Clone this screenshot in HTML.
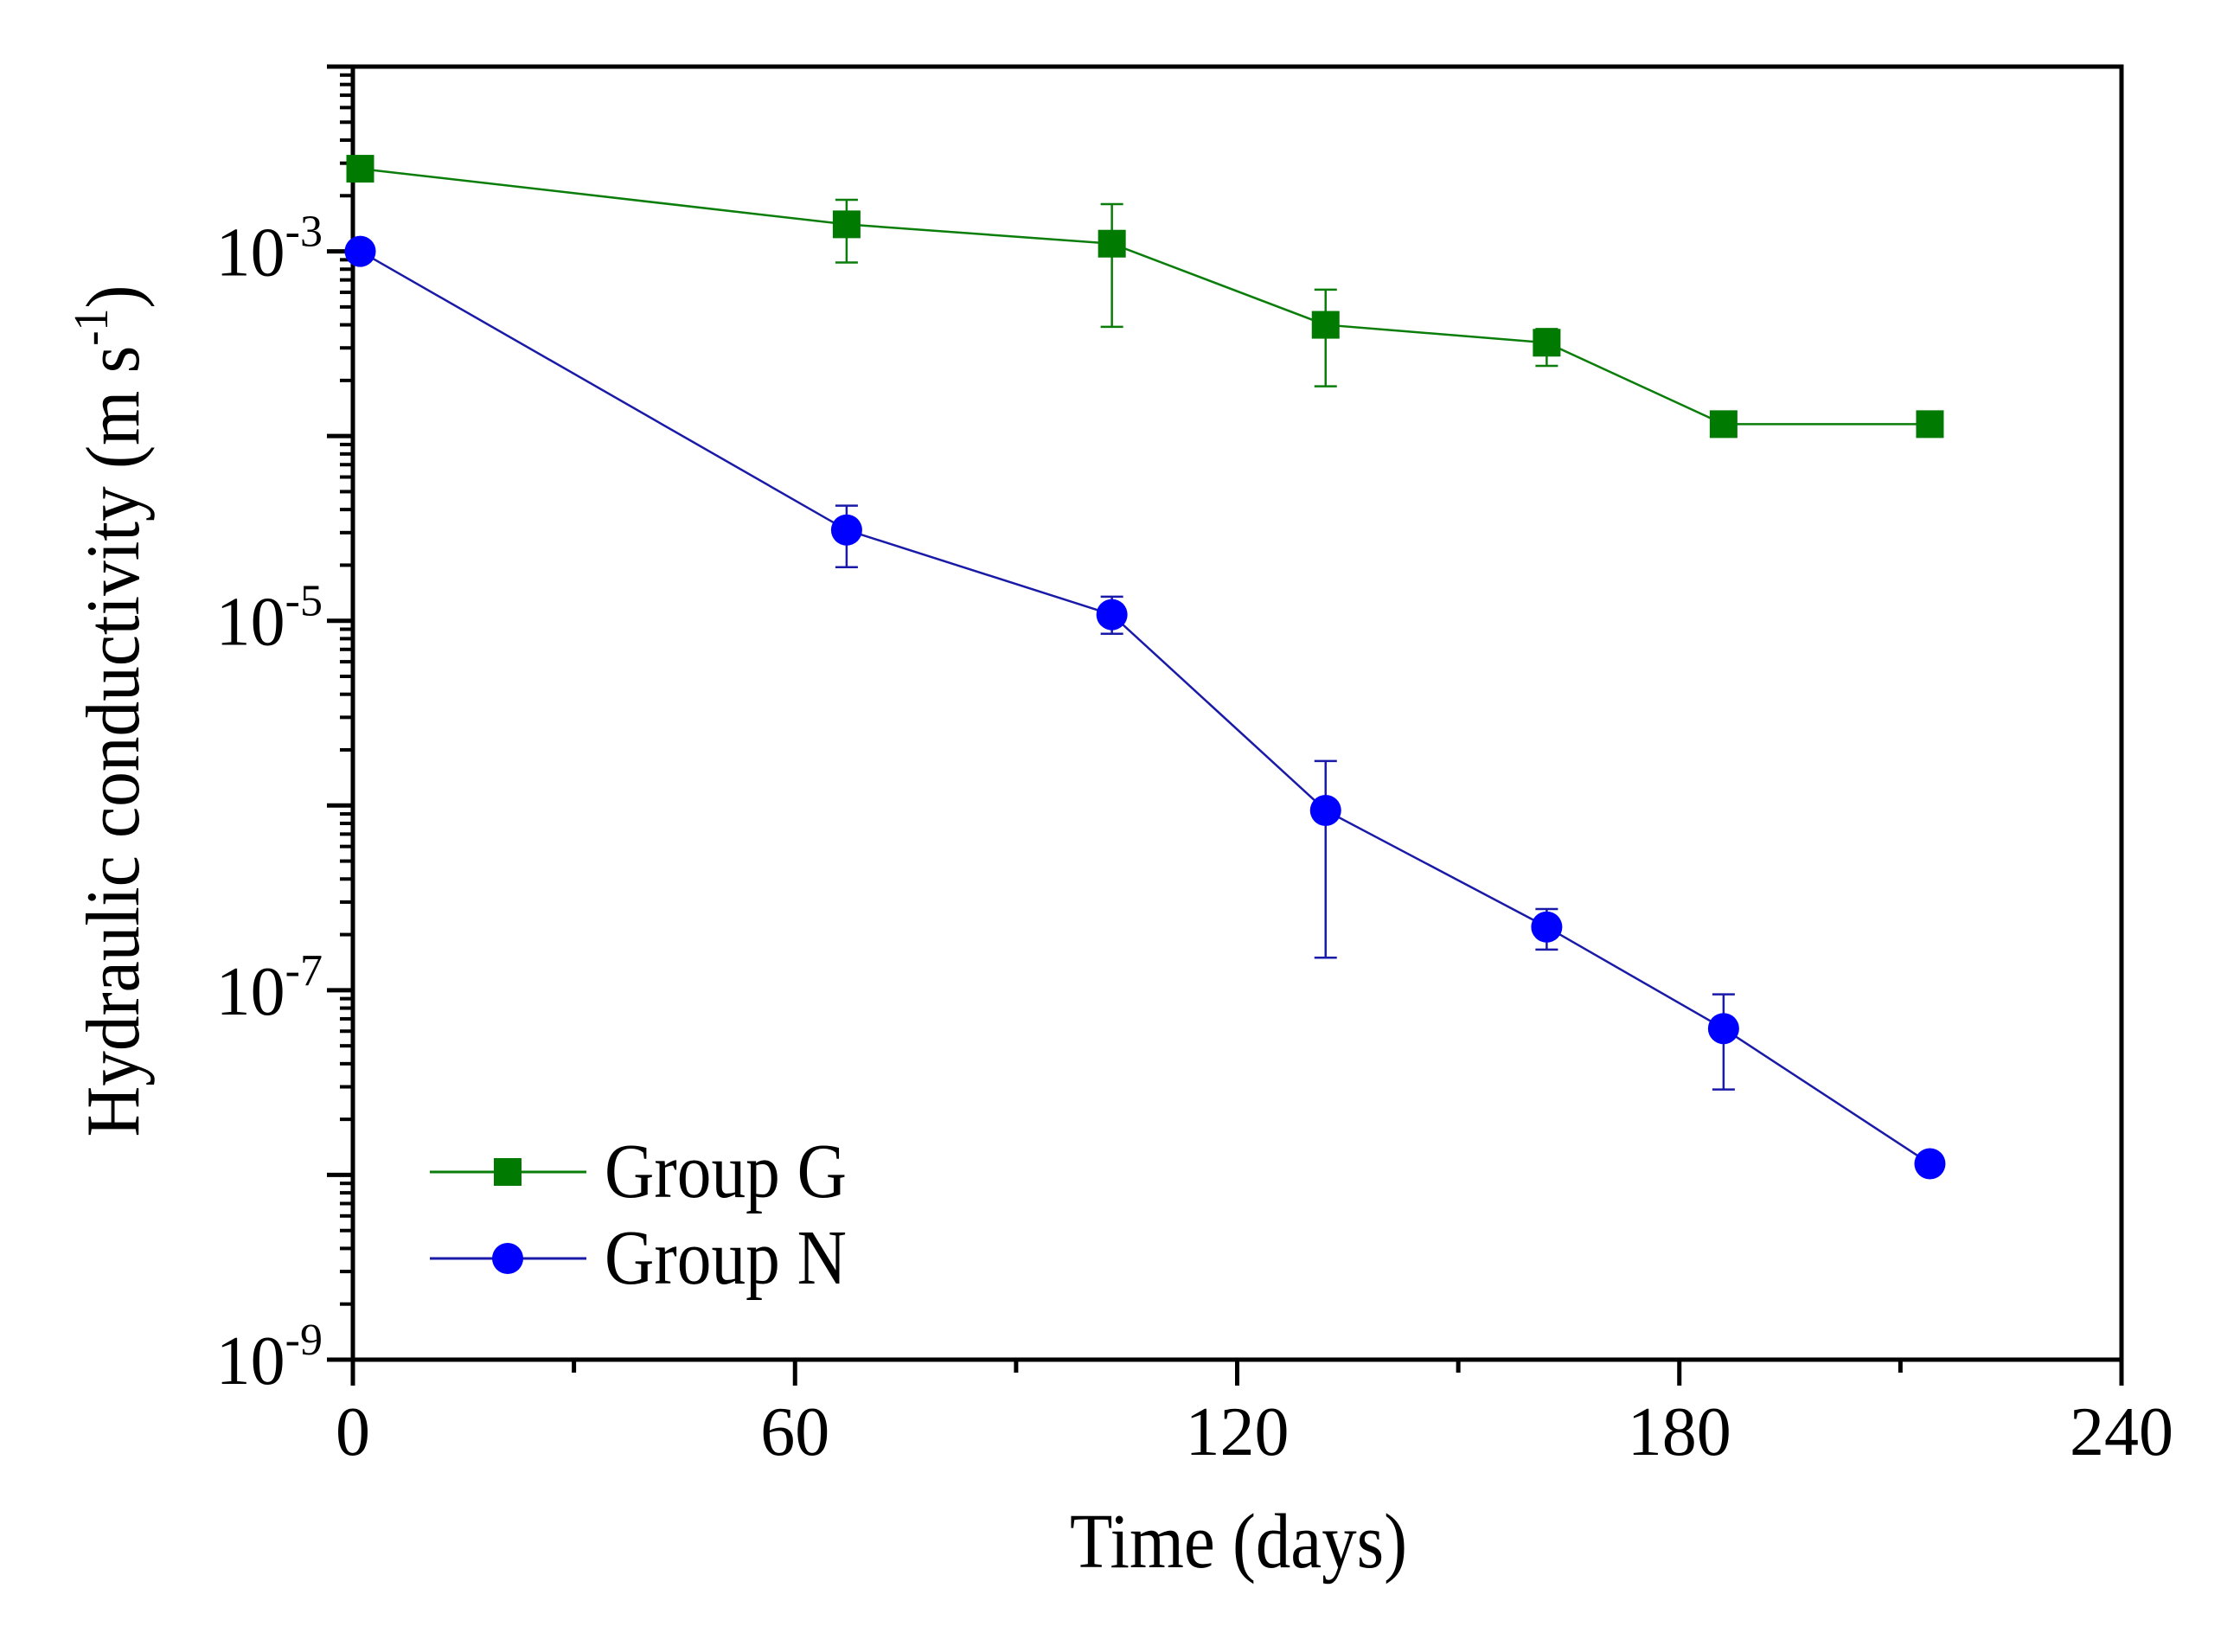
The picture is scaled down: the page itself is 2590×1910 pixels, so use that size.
<!DOCTYPE html>
<html><head><meta charset="utf-8"><style>
html,body{margin:0;padding:0;background:#fff;}
svg{display:block;font-family:"Liberation Serif","Times New Roman",serif;}
</style></head><body>
<svg id="chart" width="2590" height="1910" viewBox="0 0 2590 1910" xmlns="http://www.w3.org/2000/svg">
<rect width="2590" height="1910" fill="#fff"/>
<g id="plot"></g>
<text x="1432" y="1812" font-size="90" text-anchor="middle" textLength="390" lengthAdjust="spacingAndGlyphs">Time (days)</text>
<text transform="translate(160,822) rotate(-90)" font-size="88" text-anchor="middle" textLength="985" lengthAdjust="spacingAndGlyphs">Hydraulic conductivity (m s<tspan font-size="56" dy="-36">-1</tspan><tspan dy="36">)</tspan></text>
<g>
<line x1="497" y1="1355" x2="678" y2="1355" stroke="#0a7d0a" stroke-width="3"/>
<rect x="571" y="1339" width="32" height="32" fill="#007a00"/>
<text x="699" y="1384" font-size="90" textLength="280" lengthAdjust="spacingAndGlyphs">Group G</text>
<line x1="497" y1="1455" x2="678" y2="1455" stroke="#1a1aa8" stroke-width="3"/>
<circle cx="587" cy="1455" r="18" fill="#0000ff"/>
<text x="699" y="1484" font-size="90" textLength="280" lengthAdjust="spacingAndGlyphs">Group N</text>
</g>
</svg>
<script>
const days = [1, 67, 103, 132, 162, 186, 214];
const groupG = [2.8e-3, 1.4e-3, 1.1e-3, 4.0e-4, 3.2e-4, 1.16e-4, 1.16e-4];
const groupGLow = [null, 8.7e-4, 3.9e-4, 1.86e-4, 2.4e-4, null, null];
const groupGHigh = [null, 1.9e-3, 1.8e-3, 6.2e-4, 3.8e-4, null, null];
const groupN = [1.0e-3, 3.1e-5, 1.08e-5, 9.4e-7, 2.2e-7, 6.2e-8, 1.15e-8];
const groupNLow = [null, 1.95e-5, 8.5e-6, 1.5e-7, 1.66e-7, 2.9e-8, null];
const groupNHigh = [null, 4.2e-5, 1.35e-5, 1.74e-6, 2.75e-7, 9.5e-8, null];
const xTicks = [0, 60, 120, 180, 240];
const xMinorTicks = [30, 90, 150, 210];
const yLabelExps = [-3, -5, -7, -9];

const L = 408, R = 2453, T = 77, B = 1572;
const xMin = 0, xMax = 240, yMinExp = -9, yMaxExp = -2;
function sx(v){ return L + (v - xMin) / (xMax - xMin) * (R - L); }
function sy(v){ return B - (Math.log10(v) - yMinExp) / (yMaxExp - yMinExp) * (B - T); }

const NS = "http://www.w3.org/2000/svg";
const plot = document.getElementById('plot');
function mk(tag, attrs, parent){
  const e = document.createElementNS(NS, tag);
  for (const k in attrs) e.setAttribute(k, attrs[k]);
  (parent || plot).appendChild(e);
  return e;
}

const frame = mk('rect', {x:L, y:T, width:R-L, height:B-T, fill:'none', stroke:'#000', 'stroke-width':5});



xTicks.forEach(t => {
  const ln = mk('line', {x1:sx(t), y1:B, x2:sx(t), y2:B+30, stroke:'#000', 'stroke-width':5});
  
  
  const tx = mk('text', {x:sx(t), y:B+110, 'font-size':80, 'text-anchor':'middle'});
  tx.textContent = String(t);
  
  
});
xMinorTicks.forEach(t => {
  const ln = mk('line', {x1:sx(t), y1:B, x2:sx(t), y2:B+15, stroke:'#000', 'stroke-width':5});
  
  
});

for (let e = yMinExp; e <= yMaxExp; e++) {
  const y = sy(Math.pow(10, e));
  const ln = mk('line', {x1:L-30, y1:y, x2:L, y2:y, stroke:'#000', 'stroke-width':5});
  
  
  if (e < yMaxExp) {
    for (let m = 2; m <= 9; m++) {
      const ym = sy(m * Math.pow(10, e));
      const mn = mk('line', {x1:L-15, y1:ym, x2:L, y2:ym, stroke:'#000', 'stroke-width':4});
      
      
    }
  }
}
yLabelExps.forEach(e => {
  const y = sy(Math.pow(10, e));
  const tx = mk('text', {x:L-35, y:y+28, 'font-size':80, 'text-anchor':'end'});
  
  
  const base = document.createElementNS(NS, 'tspan');
  base.textContent = '10';
  tx.appendChild(base);
  const sup = document.createElementNS(NS, 'tspan');
  sup.setAttribute('font-size', '52');
  sup.setAttribute('dy', '-34');
  sup.textContent = String(e);
  tx.appendChild(sup);
});

function series(vals, lo, hi, color, lineColor, kind, name){
  const g = mk('g', {});
  
  
  const pts = days.map((d, i) => sx(d) + ',' + sy(vals[i])).join(' ');
  const pl = mk('polyline', {points:pts, fill:'none', stroke:lineColor, 'stroke-width':2.5}, g);
  
  
  days.forEach((d, i) => {
    if (lo[i] != null) {
      const x = sx(d), y1 = sy(hi[i]), y2 = sy(lo[i]);
      const eb = mk('path', {d:`M${x} ${y1}V${y2}M${x-13} ${y1}H${x+13}M${x-13} ${y2}H${x+13}`, stroke:lineColor, 'stroke-width':2.5, fill:'none'}, g);
      
      
    }
  });
  days.forEach((d, i) => {
    const x = sx(d), y = sy(vals[i]);
    let m;
    if (kind === 'square') m = mk('rect', {x:x-16, y:y-16, width:32, height:32, fill:color}, g);
    else m = mk('circle', {cx:x, cy:y, r:18, fill:color}, g);
    
    
  });
}
series(groupG, groupGLow, groupGHigh, '#007a00', '#0a7d0a', 'square', 'group-g');
series(groupN, groupNLow, groupNHigh, '#0000ff', '#1a1aa8', 'circle', 'group-n');
</script>
</body></html>
